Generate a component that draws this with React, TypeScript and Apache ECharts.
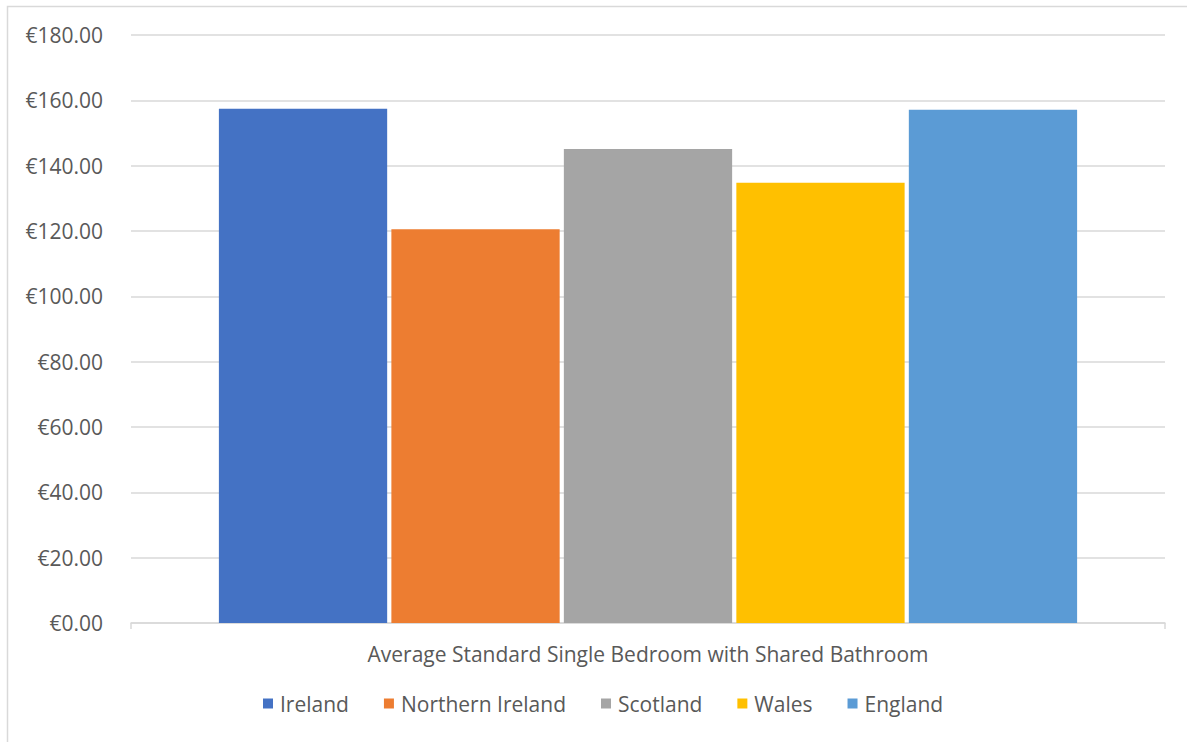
import React, { useEffect, useRef } from "react";
import * as echarts from "echarts";

const categories = ["Average Standard Single Bedroom with Shared Bathroom"];
const seriesNames = ["Ireland", "Northern Ireland", "Scotland", "Wales", "England"];
const seriesValues = [157.4, 120.5, 145.1, 134.8, 157.1];
const seriesColors = ["#4472C4", "#ED7D31", "#A5A5A5", "#FFC000", "#5B9BD5"];

const FONT = "Open Sans";

export default function App() {
  const ref = useRef<HTMLDivElement>(null);
  useEffect(() => {
    const chart = echarts.init(ref.current!, null, { renderer: "svg" });
    chart.setOption({
      animation: false,
      backgroundColor: "#ffffff",
      textStyle: { fontFamily: FONT },
      graphic: [
        {
          type: "rect",
          shape: { x: 7.5, y: 6.5, width: 1200, height: 800 },
          style: { fill: "none", stroke: "#d9d9d9", lineWidth: 1.5 },
          silent: true,
        },
      ],
      grid: { left: 131, right: 22, top: 35, bottom: 119 },
      legend: {
        bottom: 23,
        left: 258,
        itemWidth: 10,
        itemHeight: 10,
        itemGap: 35,
        icon: "rect",
        textStyle: { fontSize: 21, color: "#595959", fontFamily: FONT, padding: [0, 0, 0, 2] },
        data: seriesNames,
      },
      xAxis: {
        type: "category",
        data: categories,
        axisLine: { lineStyle: { color: "#d9d9d9", width: 1.5 } },
        axisTick: { show: true, length: 6, lineStyle: { color: "#d9d9d9", width: 1.5 } },
        axisLabel: { fontSize: 21, color: "#595959", margin: 20, fontFamily: FONT },
      },
      yAxis: {
        type: "value",
        min: 0,
        max: 180,
        interval: 20,
        axisLine: { show: false },
        axisTick: { show: false },
        splitLine: { lineStyle: { color: "#d9d9d9", width: 1.5 } },
        axisLabel: {
          fontSize: 21,
          color: "#595959",
          margin: 28,
          fontFamily: FONT,
          formatter: (v: number) => "€" + v.toFixed(2),
        },
      },
      series: seriesNames.map((name, i) => ({
        name,
        type: "bar",
        data: [seriesValues[i]],
        barCategoryGap: "17%",
        barGap: "2.5%",
        itemStyle: { color: seriesColors[i] },
      })),
    });
    return () => chart.dispose();
  }, []);
  return <div ref={ref} style={{ width: 1187, height: 742, position: "absolute", left: 0, top: 0 }} />;
}
